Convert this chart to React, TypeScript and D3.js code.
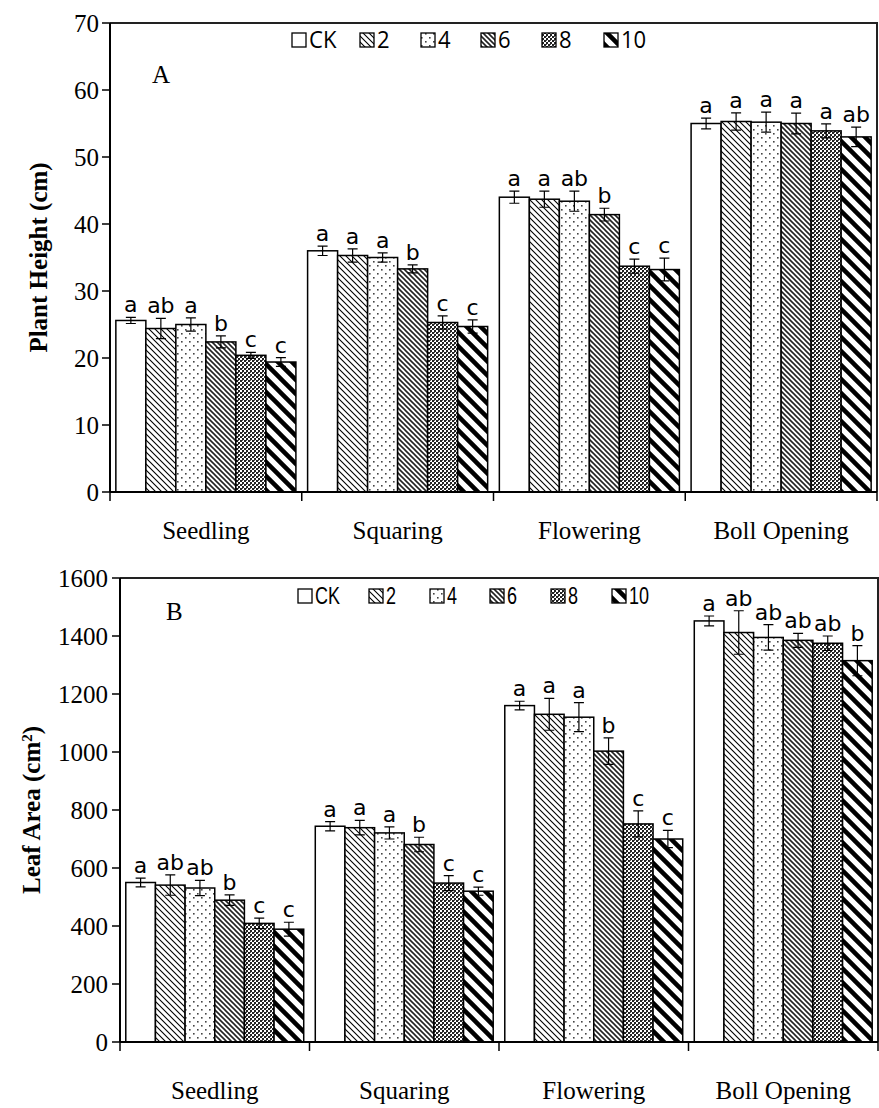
import React from "react";
import * as d3 from "d3";

const stages = ["Seedling", "Squaring", "Flowering", "Boll Opening"];
const treatments = ["CK", "2", "4", "6", "8", "10"];

// Panel A: plant height (cm), one array per treatment across stages
const heightCK = [25.6, 36.0, 44.0, 55.0];
const height2 = [24.4, 35.3, 43.7, 55.3];
const height4 = [25.0, 35.0, 43.4, 55.2];
const height6 = [22.4, 33.3, 41.4, 55.0];
const height8 = [20.4, 25.3, 33.7, 53.9];
const height10 = [19.4, 24.7, 33.2, 53.0];
const heightErrCK = [0.45, 0.7, 0.9, 0.8];
const heightErr2 = [1.5, 1.0, 1.2, 1.3];
const heightErr4 = [1.0, 0.7, 1.5, 1.5];
const heightErr6 = [0.9, 0.6, 0.95, 1.55];
const heightErr8 = [0.45, 1.0, 1.05, 1.05];
const heightErr10 = [0.65, 1.0, 1.7, 1.45];
const heightSigCK = ["a", "a", "a", "a"];
const heightSig2 = ["ab", "a", "a", "a"];
const heightSig4 = ["a", "a", "ab", "a"];
const heightSig6 = ["b", "b", "b", "a"];
const heightSig8 = ["c", "c", "c", "a"];
const heightSig10 = ["c", "c", "c", "ab"];
const heightTicks = [0, 10, 20, 30, 40, 50, 60, 70];

// Panel B: leaf area (cm2)
const areaCK = [550, 744, 1160, 1452];
const area2 = [541, 739, 1130, 1412];
const area4 = [531, 721, 1120, 1395];
const area6 = [489, 681, 1003, 1385];
const area8 = [409, 548, 752, 1375];
const area10 = [389, 520, 700, 1315];
const areaErrCK = [15, 16, 15, 17];
const areaErr2 = [35, 25, 55, 75];
const areaErr4 = [26, 21, 50, 44];
const areaErr6 = [18, 25, 46, 24];
const areaErr8 = [18, 26, 45, 25];
const areaErr10 = [24, 14, 30, 52];
const areaSigCK = ["a", "a", "a", "a"];
const areaSig2 = ["ab", "a", "a", "ab"];
const areaSig4 = ["ab", "a", "a", "ab"];
const areaSig6 = ["b", "b", "b", "ab"];
const areaSig8 = ["c", "c", "c", "ab"];
const areaSig10 = ["c", "c", "c", "b"];
const areaTicks = [0, 200, 400, 600, 800, 1000, 1200, 1400, 1600];

const heightVals = [heightCK, height2, height4, height6, height8, height10];
const heightErrs = [heightErrCK, heightErr2, heightErr4, heightErr6, heightErr8, heightErr10];
const heightSigs = [heightSigCK, heightSig2, heightSig4, heightSig6, heightSig8, heightSig10];
const areaVals = [areaCK, area2, area4, area6, area8, area10];
const areaErrs = [areaErrCK, areaErr2, areaErr4, areaErr6, areaErr8, areaErr10];
const areaSigs = [areaSigCK, areaSig2, areaSig4, areaSig6, areaSig8, areaSig10];

const fills = ["#ffffff", "url(#p2)", "url(#p4)", "url(#p6)", "url(#p8)", "url(#p10)"];

const SERIF = "'Liberation Serif', 'Times New Roman', serif";
const SANS = "'DejaVu Sans', Verdana, sans-serif";

type PanelProps = {
  x0: number; x1: number; yTop: number; yBot: number; max: number;
  ticks: number[]; vals: number[][]; errs: number[][]; sigs: string[][];
  panelLabel: string; labelPos: [number, number];
  legendY: number; legendXs: number[]; legendFont: string; legendSize: number; legendScaleX: number;
  tickLabelX: number; xLabelY: number;
  title: React.ReactNode; titleX: number;
};

function Panel(p: PanelProps) {
  const x = d3.scaleBand<string>().domain(stages).range([p.x0, p.x1]).padding(0);
  const xi = d3.scaleBand<string>().domain(treatments).range([0, x.bandwidth()]).paddingInner(0).paddingOuter(0.195);
  const y = d3.scaleLinear().domain([0, p.max]).range([p.yBot, p.yTop]);
  const bounds = [...stages.map((s) => x(s)!), p.x1];
  return (
    <g>
      {/* frame */}
      <path d={`M${p.x0},${p.yTop}H${p.x1}V${p.yBot}`} fill="none" stroke="#222" strokeWidth={2} />
      {/* bars */}
      {treatments.map((t, ti) =>
        stages.map((s, si) => {
          const v = p.vals[ti][si];
          const e = p.errs[ti][si];
          const bx = x(s)! + xi(t)!;
          const bw = xi.bandwidth();
          const cx = bx + bw / 2;
          return (
            <g key={t + s}>
              <rect x={bx} y={y(v)} width={bw} height={y(0) - y(v)} fill={fills[ti]} stroke="#000" strokeWidth={1.5} />
              <path d={`M${cx},${y(v + e)}V${y(v - e)}M${cx - 5},${y(v + e)}H${cx + 5}M${cx - 5},${y(v - e)}H${cx + 5}`} stroke="#000" strokeWidth={1.2} fill="none" />
              <text x={cx} y={y(v + e) - 5} textAnchor="middle" fontFamily={SANS} fontSize={22} fill="#000">{p.sigs[ti][si]}</text>
            </g>
          );
        })
      )}
      {/* y axis */}
      <line x1={p.x0} x2={p.x0} y1={p.yTop} y2={p.yBot} stroke="#000" strokeWidth={2} />
      {p.ticks.map((t) => (
        <g key={t}>
          <line x1={p.x0 - 8} x2={p.x0} y1={y(t)} y2={y(t)} stroke="#000" strokeWidth={1.5} />
          <text x={p.tickLabelX} y={y(t)} dy="0.35em" textAnchor="end" fontFamily={SERIF} fontSize={25}>{t}</text>
        </g>
      ))}
      {/* x axis */}
      <line x1={p.x0} x2={p.x1} y1={p.yBot} y2={p.yBot} stroke="#000" strokeWidth={2} />
      {bounds.map((b, i) => (
        <line key={i} x1={b} x2={b} y1={p.yBot} y2={p.yBot + 9} stroke="#000" strokeWidth={1.5} />
      ))}
      {stages.map((s) => (
        <text key={s} x={x(s)! + x.bandwidth() / 2} y={p.xLabelY} textAnchor="middle" fontFamily={SERIF} fontSize={25}>{s}</text>
      ))}
      {/* title */}
      <text transform={`translate(${p.titleX},${(p.yTop + p.yBot) / 2}) rotate(-90)`} textAnchor="middle" fontFamily={SERIF} fontWeight="bold" fontSize={25}>{p.title}</text>
      {/* panel label */}
      <text x={p.labelPos[0]} y={p.labelPos[1]} fontFamily={SERIF} fontSize={25}>{p.panelLabel}</text>
      {/* legend */}
      {treatments.map((t, ti) => (
        <g key={t}>
          <rect x={p.legendXs[ti]} y={p.legendY - 15} width={14} height={14} fill={fills[ti]} stroke="#000" strokeWidth={1.3} />
          <text transform={`translate(${p.legendXs[ti] + 17},${p.legendY}) scale(${p.legendScaleX},1)`} fontFamily={p.legendFont} fontSize={p.legendSize}>{t}</text>
        </g>
      ))}
    </g>
  );
}

export default function App() {
  return (
    <svg width={879} height={1108} style={{ position: "absolute", left: 0, top: 0, background: "#fff" }}>
      <defs>
        <pattern id="p2" patternUnits="userSpaceOnUse" width={6} height={6}>
          <rect width={6} height={6} fill="#fff" />
          <path d="M0,0L6,6M-1,5L1,7M5,-1L7,1" stroke="#000" strokeWidth={1.1} />
        </pattern>
        <pattern id="p4" patternUnits="userSpaceOnUse" width={8} height={8}>
          <rect width={8} height={8} fill="#fff" />
          <rect x={1} y={1} width={1.6} height={1.6} fill="#444" />
          <rect x={5} y={5} width={1.6} height={1.6} fill="#444" />
        </pattern>
        <pattern id="p6" patternUnits="userSpaceOnUse" width={5} height={5}>
          <rect width={5} height={5} fill="#fff" />
          <path d="M0,0L5,5M-1,4L1,6M4,-1L6,1" stroke="#222" strokeWidth={1.6} />
        </pattern>
        <pattern id="p8" patternUnits="userSpaceOnUse" width={4} height={4}>
          <rect width={4} height={4} fill="#fff" />
          <rect x={0} y={0} width={2} height={2} fill="#222" />
          <rect x={2} y={2} width={2} height={2} fill="#222" />
          <rect x={2} y={0} width={1} height={1} fill="#555" />
        </pattern>
        <pattern id="p10" patternUnits="userSpaceOnUse" width={14} height={14}>
          <rect width={14} height={14} fill="#fff" />
          <path d="M0,0L14,14M-2,12L2,16M12,-2L16,2" stroke="#000" strokeWidth={4.5} />
        </pattern>
      </defs>
      <Panel
        x0={110} x1={877} yTop={23} yBot={492} max={70}
        ticks={heightTicks} vals={heightVals} errs={heightErrs} sigs={heightSigs}
        panelLabel="A" labelPos={[152, 83]}
        legendY={48} legendXs={[292, 360, 421, 481, 542, 604]}
        legendFont="'Open Sans', 'Liberation Sans', sans-serif" legendSize={24} legendScaleX={0.92}
        tickLabelX={99} xLabelY={539}
        title="Plant Height (cm)" titleX={47}
      />
      <Panel
        x0={120} x1={878} yTop={578} yBot={1042} max={1600}
        ticks={areaTicks} vals={areaVals} errs={areaErrs} sigs={areaSigs}
        panelLabel="B" labelPos={[166, 620]}
        legendY={604} legendXs={[298, 369, 430, 490, 551, 612]}
        legendFont="'Liberation Sans', Arial, sans-serif" legendSize={24} legendScaleX={0.75}
        tickLabelX={108} xLabelY={1099}
        title={<>Leaf Area (cm<tspan baselineShift="super" fontSize={15}>2</tspan>)</>} titleX={40}
      />
    </svg>
  );
}
